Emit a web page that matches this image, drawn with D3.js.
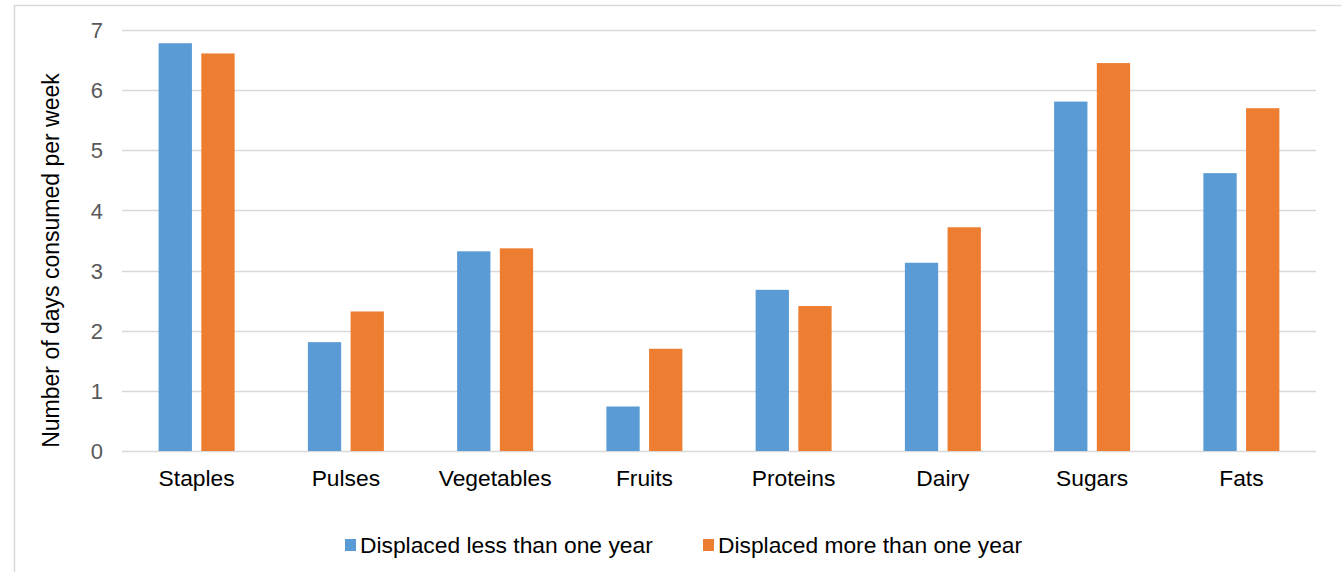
<!DOCTYPE html>
<html>
<head>
<meta charset="utf-8">
<script src="https://cdn.jsdelivr.net/npm/d3@7"></script>
<style>
  html, body { margin: 0; padding: 0; background: #fff; }
  svg { display: block; font-family: "Liberation Sans", Arial, sans-serif; }
</style>
</head>
<body>
<svg id="chart" width="1341" height="572"></svg>
<script>
// Food groups and average days consumed per week
const categories = ["Staples", "Pulses", "Vegetables", "Fruits", "Proteins", "Dairy", "Sugars", "Fats"];
const seriesNames = ["Displaced less than one year", "Displaced more than one year"];
const lessThanOneYear = [6.78, 1.81, 3.32, 0.74, 2.68, 3.13, 5.81, 4.62];
const moreThanOneYear = [6.61, 2.32, 3.37, 1.70, 2.41, 3.72, 6.45, 5.70];
const yTicks = [0, 1, 2, 3, 4, 5, 6, 7];
const yTitle = "Number of days consumed per week";

const colors = ["#5B9BD5", "#ED7D31"];
const seriesValues = [lessThanOneYear, moreThanOneYear];
const FONT = "'Liberation Sans', Arial, sans-serif";

const svg = d3.select("#chart");
const W = 1341, H = 572;
const plot = { left: 122, right: 1316, top: 30, bottom: 451 };

// outer frame
svg.append("rect")
  .attr("x", 14.5).attr("y", 5.5)
  .attr("width", W + 20).attr("height", H + 20)
  .attr("fill", "none").attr("stroke", "#d9d9d9").attr("stroke-width", 1.5);

const x = d3.scaleBand().domain(categories).range([plot.left, plot.right]).padding(0);
const y = d3.scaleLinear().domain([0, 7]).range([plot.bottom, plot.top]);

// gridlines
svg.append("g").selectAll("line").data(yTicks).join("line")
  .attr("x1", plot.left).attr("x2", plot.right)
  .attr("y1", d => Math.round(y(d)) + 0.5).attr("y2", d => Math.round(y(d)) + 0.5)
  .attr("stroke", "#d9d9d9").attr("stroke-width", 1.3);

// y tick labels
const yAxis = d3.axisLeft(y).tickValues(yTicks).tickFormat(d3.format("d")).tickSize(0).tickPadding(0);
const ya = svg.append("g").attr("transform", `translate(${plot.left - 19},0)`).call(yAxis);
ya.select(".domain").remove();
ya.selectAll("text").attr("font-size", 22).attr("fill", "#595959")
  .attr("font-family", FONT).attr("dy", "0.35em");

// bars
const groupHalf = 38;
categories.forEach((c, i) => {
  const cx = x(c) + x.bandwidth() / 2;
  const inner = d3.scaleBand().domain(seriesNames).range([cx - groupHalf, cx + groupHalf]).paddingInner(0.22);
  svg.append("g").selectAll("rect").data(seriesNames).join("rect")
    .attr("x", s => inner(s))
    .attr("width", inner.bandwidth())
    .attr("y", (s, k) => y(seriesValues[k][i]))
    .attr("height", (s, k) => y(0) - y(seriesValues[k][i]))
    .attr("fill", (s, k) => colors[k]);
});

// category axis labels
const xAxis = d3.axisBottom(x).tickSize(0).tickPadding(0);
const xa = svg.append("g").attr("transform", `translate(0,${plot.bottom + 27})`).call(xAxis);
xa.select(".domain").remove();
xa.selectAll("text").attr("font-size", 22.8).attr("fill", "#000")
  .attr("font-family", FONT).attr("dy", "0.35em");

// y axis title
svg.append("text")
  .attr("transform", `translate(58.5,${(plot.top + plot.bottom) / 2 + 20}) rotate(-90)`)
  .attr("text-anchor", "middle")
  .attr("font-family", FONT)
  .attr("font-size", 23).attr("fill", "#000")
  .text(yTitle);

// legend
const legendItems = [{ name: seriesNames[0], x: 345 }, { name: seriesNames[1], x: 703 }];
const lg = svg.append("g");
legendItems.forEach((d, k) => {
  lg.append("rect").attr("x", d.x).attr("y", 539).attr("width", 11).attr("height", 12).attr("fill", colors[k]);
  lg.append("text").attr("x", d.x + 15).attr("y", 545).attr("dy", "0.35em")
    .attr("font-family", FONT)
    .attr("font-size", 22.8).attr("fill", "#000").text(d.name);
});
</script>
</body>
</html>
